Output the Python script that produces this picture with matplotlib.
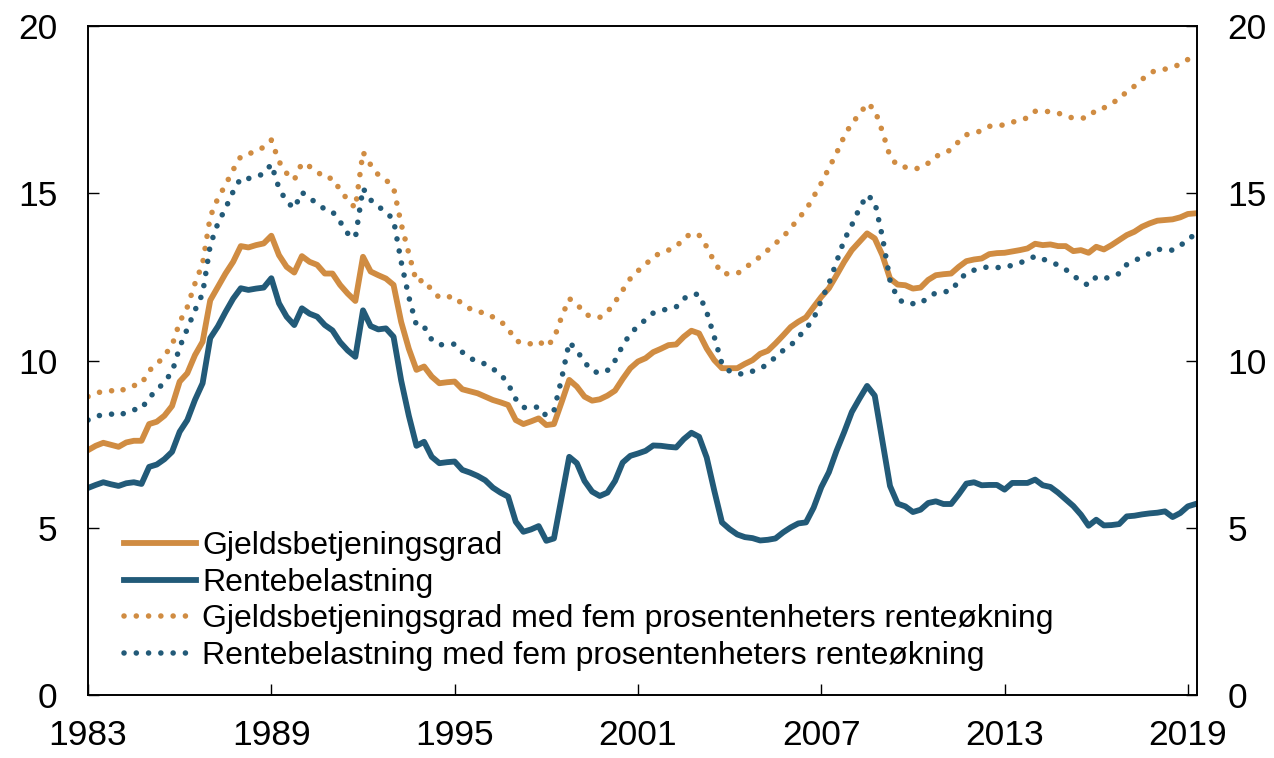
import numpy as np
import matplotlib
matplotlib.use("Agg")
import matplotlib.pyplot as plt

plt.rcParams['font.family'] = ['Liberation Sans', 'DejaVu Sans']

# quarterly data, 1983Q1 - 2019Q2
start_year = 1983

gjeld = [
    7.32, 7.45, 7.54, 7.48,
    7.42, 7.55, 7.6, 7.6,
    8.1, 8.17, 8.35, 8.64,
    9.37, 9.62, 10.16, 10.56,
    11.8, 12.2, 12.6, 12.95,
    13.42, 13.38, 13.45, 13.5,
    13.73, 13.15, 12.8, 12.63,
    13.12, 12.95, 12.86, 12.6,
    12.6, 12.26, 12.0, 11.78,
    13.1, 12.66, 12.55, 12.45,
    12.26, 11.15, 10.35, 9.72,
    9.82, 9.52, 9.32, 9.35,
    9.37, 9.14, 9.08, 9.02,
    8.92, 8.82, 8.75, 8.67,
    8.22, 8.1, 8.18, 8.27,
    8.07, 8.1, 8.75, 9.42,
    9.22, 8.92, 8.8, 8.84,
    8.95, 9.1, 9.45, 9.77,
    9.97, 10.07, 10.25, 10.35,
    10.46, 10.48, 10.71, 10.89,
    10.81, 10.36, 10.01, 9.77,
    9.77, 9.77, 9.9, 10.01,
    10.2, 10.29, 10.51, 10.75,
    11.0, 11.16, 11.29, 11.6,
    11.9, 12.16, 12.55, 12.95,
    13.3, 13.55, 13.8, 13.65,
    13.15, 12.45, 12.27, 12.25,
    12.15, 12.18, 12.41, 12.55,
    12.58, 12.6, 12.8, 12.97,
    13.02, 13.05, 13.18, 13.21,
    13.22, 13.26, 13.3, 13.35,
    13.49, 13.45, 13.47, 13.42,
    13.42, 13.27, 13.3, 13.22,
    13.4, 13.32, 13.45, 13.6,
    13.75, 13.85, 14.0, 14.1,
    14.18, 14.2, 14.22, 14.28,
    14.38, 14.4,
]

rente = [
    6.19, 6.28, 6.36, 6.3,
    6.25, 6.33, 6.36, 6.31,
    6.82, 6.89, 7.05, 7.27,
    7.87, 8.22, 8.82, 9.32,
    10.67, 11.02, 11.45, 11.85,
    12.16, 12.11, 12.15, 12.18,
    12.46, 11.71, 11.31, 11.06,
    11.56, 11.4, 11.31, 11.06,
    10.9, 10.55, 10.3, 10.11,
    11.5, 11.03, 10.93, 10.96,
    10.71, 9.4, 8.35, 7.45,
    7.57, 7.12, 6.93, 6.96,
    6.98, 6.73, 6.65, 6.55,
    6.42, 6.2, 6.05, 5.93,
    5.18, 4.88, 4.95, 5.05,
    4.61, 4.68, 5.9, 7.12,
    6.93, 6.4, 6.08, 5.95,
    6.05, 6.4, 6.95, 7.15,
    7.22, 7.3, 7.46, 7.45,
    7.42, 7.4, 7.65, 7.84,
    7.72, 7.1, 6.1, 5.16,
    4.96, 4.8, 4.72, 4.69,
    4.62, 4.64, 4.68, 4.86,
    5.01, 5.13, 5.16, 5.6,
    6.21, 6.66, 7.3, 7.86,
    8.46, 8.86, 9.24, 8.95,
    7.6, 6.25, 5.72, 5.64,
    5.47, 5.54, 5.74, 5.79,
    5.71, 5.71, 6.0, 6.32,
    6.36, 6.27, 6.28, 6.28,
    6.14, 6.34, 6.34, 6.34,
    6.44, 6.27, 6.22, 6.05,
    5.85, 5.65, 5.39, 5.06,
    5.24, 5.07, 5.08, 5.11,
    5.34, 5.36, 5.4, 5.43,
    5.45, 5.49, 5.32, 5.44,
    5.64, 5.71,
]

gjeld_5 = [
    8.92, 9.02, 9.08, 9.1,
    9.05, 9.18, 9.25, 9.3,
    9.7, 9.88, 10.15, 10.45,
    11.15, 11.6, 12.3, 12.9,
    14.3, 14.85, 15.25, 15.7,
    16.1, 16.18, 16.25, 16.38,
    16.59, 15.95, 15.6, 15.4,
    15.9, 15.8, 15.65, 15.45,
    15.45, 15.1, 14.8, 14.56,
    16.23, 15.85, 15.55, 15.4,
    15.17, 14.08, 13.2, 12.35,
    12.41, 12.1, 11.88, 11.9,
    11.91, 11.68, 11.55, 11.45,
    11.43, 11.3, 11.18, 10.95,
    10.6, 10.5, 10.5, 10.58,
    10.41, 10.65, 11.3, 11.85,
    11.7, 11.4, 11.3, 11.29,
    11.45, 11.75, 12.1, 12.45,
    12.68, 12.87, 13.1, 13.22,
    13.3, 13.4, 13.65, 13.8,
    13.75, 13.4, 12.95, 12.6,
    12.59, 12.6, 12.75, 12.95,
    13.1, 13.3, 13.5, 13.7,
    13.95, 14.25, 14.5, 14.9,
    15.3, 15.75, 16.2, 16.7,
    17.1, 17.35, 17.69, 17.5,
    16.85, 16.1, 15.82, 15.78,
    15.72, 15.76, 15.9, 16.1,
    16.2, 16.3, 16.55, 16.75,
    16.8, 16.87, 17.0, 17.03,
    17.04, 17.12, 17.2, 17.25,
    17.45, 17.45, 17.44, 17.4,
    17.3, 17.25, 17.24, 17.27,
    17.5, 17.55, 17.7, 17.8,
    18.05, 18.2, 18.4, 18.6,
    18.68, 18.71, 18.78, 18.85,
    19.0, 19.1,
]

rente_5 = [
    8.22, 8.33, 8.38, 8.4,
    8.35, 8.45, 8.53, 8.55,
    8.9, 9.1, 9.37, 9.65,
    10.4, 10.95, 11.5, 12.0,
    13.45, 14.1, 14.55, 15.05,
    15.45, 15.44, 15.5, 15.58,
    15.87, 15.15, 14.75, 14.55,
    15.03, 14.85, 14.7, 14.52,
    14.45, 14.15, 13.8, 13.67,
    15.15, 14.8, 14.6, 14.45,
    14.2, 12.95, 11.9, 11.05,
    11.01, 10.62, 10.47, 10.48,
    10.49, 10.25, 10.08, 9.95,
    9.9, 9.75, 9.6, 9.3,
    8.85, 8.6, 8.57, 8.62,
    8.34, 8.5, 9.45, 10.55,
    10.3, 9.95, 9.69, 9.62,
    9.7, 10.0, 10.45, 10.8,
    11.03, 11.22, 11.42, 11.5,
    11.54, 11.6, 11.85, 11.98,
    11.98, 11.45, 10.7, 9.9,
    9.68, 9.6, 9.6, 9.68,
    9.75, 9.9, 10.1, 10.3,
    10.45, 10.7, 10.95, 11.25,
    11.8, 12.3, 12.95, 13.6,
    14.05, 14.55, 14.95, 14.75,
    13.7, 12.4, 11.85, 11.7,
    11.7, 11.7, 11.9, 12.02,
    12.05, 12.08, 12.38, 12.62,
    12.7, 12.77, 12.8, 12.78,
    12.78, 12.85, 12.92, 13.0,
    13.12, 13.03, 12.96, 12.85,
    12.72, 12.55, 12.35, 12.25,
    12.5, 12.45, 12.5, 12.6,
    12.87, 12.98, 13.1, 13.2,
    13.33, 13.3, 13.3, 13.42,
    13.65, 13.75,
]

labels = [
    "Gjeldsbetjeningsgrad",
    "Rentebelastning",
    "Gjeldsbetjeningsgrad med fem prosentenheters renteøkning",
    "Rentebelastning med fem prosentenheters renteøkning",
]
x_ticks = [1983, 1989, 1995, 2001, 2007, 2013, 2019]
y_ticks = [0, 5, 10, 15, 20]

orange = "#D08C42"
blue = "#225A78"

x = start_year + np.arange(len(gjeld)) / 4

fig = plt.figure(figsize=(12.74, 7.58), dpi=100)
ax = fig.add_axes([0.0691, 0.0831, 0.8705, 0.8826])

dot = (0, (0.01, 2.2))
ax.plot(x, gjeld, color=orange, lw=4.2, label=labels[0], solid_joinstyle="round")
ax.plot(x, rente, color=blue, lw=4.2, label=labels[1], solid_joinstyle="round")
ax.plot(x, gjeld_5, color=orange, lw=4.0, ls=dot, dash_capstyle="round", label=labels[2])
ax.plot(x, rente_5, color=blue, lw=4.0, ls=dot, dash_capstyle="round", label=labels[3])

ax.set_xlim(1983, 2019.3)
ax.set_ylim(0, 20)
ax.set_xticks(x_ticks)
ax.set_yticks(y_ticks)

ax.tick_params(axis="x", direction="in", length=8, width=1, pad=17, labelsize=25.5)
ax.tick_params(axis="y", direction="in", length=8, width=1, pad=22, labelsize=25.5,
               right=True, labelright=True)
for s in ax.spines.values():
    s.set_linewidth(1.4)

ax.legend(loc="upper left", bbox_to_anchor=(0.0975, 0.2994), bbox_transform=fig.transFigure,
          frameon=False, fontsize=23, borderpad=0, borderaxespad=0,
          handlelength=2.25, handletextpad=0.2, labelspacing=0.21)

fig.savefig("out.png", dpi=100)
